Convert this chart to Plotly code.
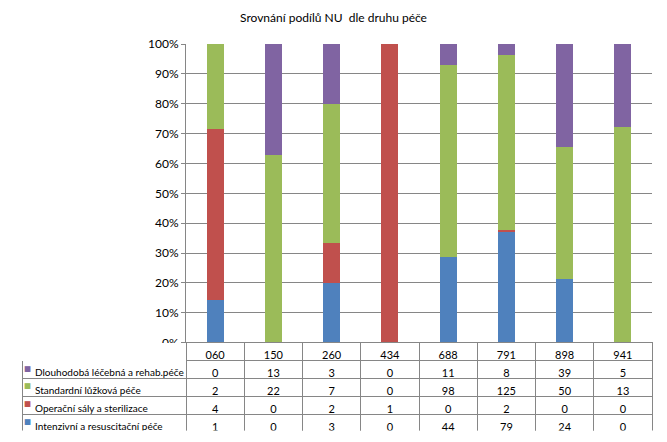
import plotly.graph_objects as go

categories = ["060", "150", "260", "434", "688", "791", "898", "941"]
series_names = [
    "Intenzivní a resuscitační péče",
    "Operační sály a sterilizace",
    "Standardní lůžková péče",
    "Dlouhodobá léčebná a rehab.péče",
]
intenzivni = [1, 0, 3, 0, 44, 79, 24, 0]
operacni = [4, 0, 2, 1, 0, 2, 0, 0]
standardni = [2, 22, 7, 0, 98, 125, 50, 13]
dlouhodoba = [0, 13, 3, 0, 11, 8, 39, 5]
colors = ["#4F81BD", "#C0504D", "#9BBB59", "#8064A2"]
y_ticks = [0, 10, 20, 30, 40, 50, 60, 70, 80, 90, 100]

series_values = [intenzivni, operacni, standardni, dlouhodoba]
FONT = "Lato, sans-serif"
GRID = "#868686"

W, H = 667, 442
TL, TR, TT, TB = 22, 652, 44, 438   # outer box (margins)
PL, PB = 186, 348                   # plot area left / bottom
ROW = 18
IW, IH = TR - TL, TB - TT

fig = go.Figure()
for name, vals, col in zip(series_names, series_values, colors):
    fig.add_trace(go.Bar(x=categories, y=vals, name=name, marker_color=col,
                         marker_line_width=0, showlegend=False))

# data table (rows in reverse order, as in the reference)
rows = list(zip(series_names, series_values, colors))[::-1]
label_col = ["\u2002" + n.replace(" ", "\u00a0") for n, v, c in rows]
value_cols = [[str(v[i]) for n, v, c in rows] for i in range(len(categories))]
col_w = [PL - TL] + [(TR - PL) / len(categories)] * len(categories)
header_line = ["rgba(0,0,0,0)"] + [GRID] * len(categories)

fig.add_trace(go.Table(
    domain=dict(x=[0, 1], y=[0, (TB - PB) / IH]),
    columnwidth=col_w,
    header=dict(values=[""] + categories, height=ROW,
                line=dict(color=header_line, width=1),
                fill=dict(color="white"), align="center",
                font=dict(family=FONT, size=11, color="#000000")),
    cells=dict(values=[label_col] + value_cols, height=ROW,
               line=dict(color=GRID, width=1),
               fill=dict(color="white"), align=["left"] + ["center"] * len(categories),
               font=dict(family=FONT, size=[10] + [11] * len(categories), color="#000000")),
))

# legend keys inside the table's first column
for i, (n, v, c) in enumerate(rows):
    yc = PB + ROW + ROW * i + ROW / 2 - 1
    fig.add_annotation(xref="paper", yref="paper", x=(27 - TL) / IW, y=(TB - yc) / IH,
                       text="■", showarrow=False, xanchor="center", yanchor="middle",
                       borderpad=0,
                       font=dict(family="DejaVu Sans", size=7.5, color=c))

fig.update_layout(
    width=W, height=H,
    margin=dict(l=TL, r=W - TR, t=TT, b=H - TB, pad=0),
    barmode="stack", barnorm="percent", bargap=0.71,
    paper_bgcolor="white", plot_bgcolor="white",
    title=dict(text="Srovnání podílů NU  dle druhu péče", x=0.5, xanchor="center",
               y=1 - 18 / H, yanchor="middle",
               font=dict(family=FONT, size=12, color="#000000")),
    font=dict(family=FONT, size=11, color="#000000"),
)
fig.update_xaxes(domain=[(PL - TL) / IW, 1], showticklabels=False, showline=False,
                 showgrid=False, ticks="")
fig.update_yaxes(domain=[(TB - PB) / IH, 1], range=[0, 100],
                 tickvals=y_ticks, ticktext=[f"{v}%" for v in y_ticks],
                 showgrid=True, gridcolor=GRID, gridwidth=1,
                 showline=True, linecolor=GRID, linewidth=1,
                 ticks="outside", ticklen=4, tickcolor=GRID,
                 zeroline=False, tickfont=dict(family=FONT, size=12, color="#000000"))

fig.write_html("out.html", config={"displayModeBar": False},
               post_script="document.body.style.margin='0';")
